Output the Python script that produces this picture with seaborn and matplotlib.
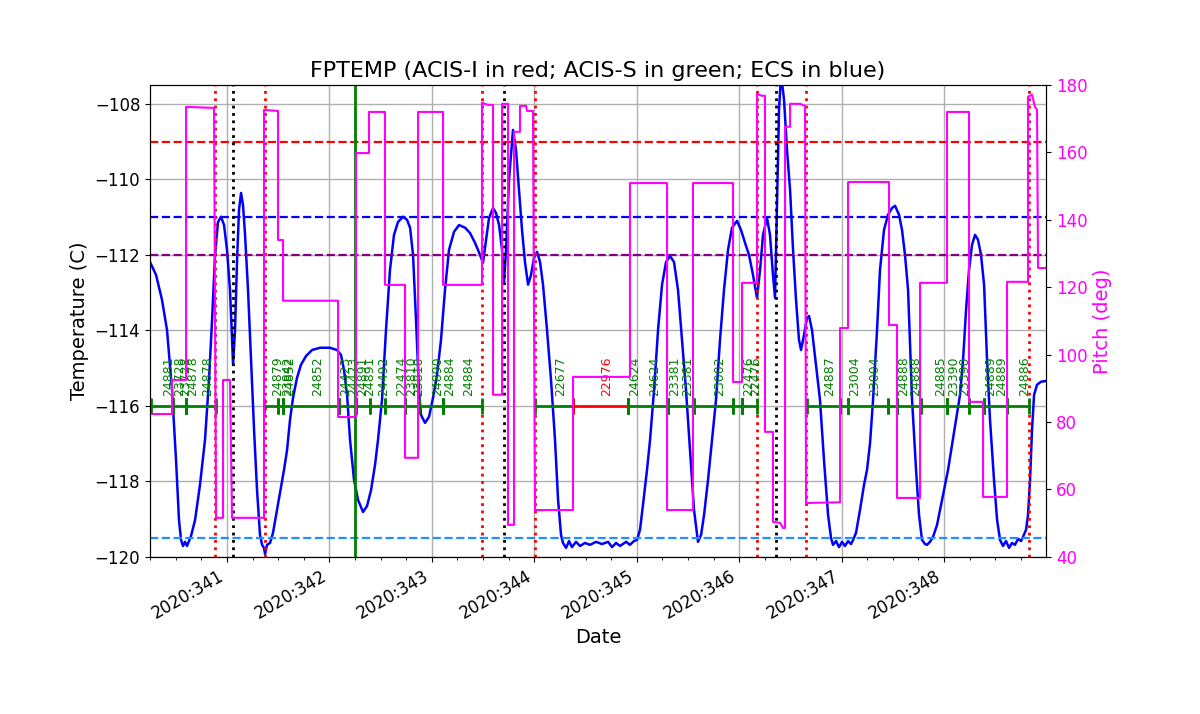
import matplotlib
matplotlib.use("Agg")
import matplotlib.pyplot as plt
from matplotlib.ticker import MultipleLocator, FuncFormatter
import seaborn as sns

# ---------------- data ----------------
temp_time = [340.248, 340.307, 340.365, 340.414, 340.463, 340.502, 340.531, 340.551, 340.570, 340.590,
             340.609, 340.629, 340.649, 340.688, 340.736, 340.785, 340.824, 340.854, 340.883, 340.912,
             340.941, 340.971, 341.000, 341.029, 341.049, 341.059, 341.078, 341.098, 341.117, 341.137,
             341.156, 341.176, 341.205, 341.234, 341.264, 341.293, 341.322, 341.342, 341.361, 341.371,
             341.391, 341.420, 341.449, 341.488, 341.517, 341.556, 341.586, 341.615, 341.644, 341.683,
             341.722, 341.771, 341.830, 341.908, 342.006, 342.074, 342.113, 342.142, 342.172, 342.201,
             342.240, 342.279, 342.328, 342.367, 342.406, 342.445, 342.474, 342.513, 342.552, 342.591,
             342.630, 342.669, 342.718, 342.757, 342.787, 342.816, 342.845, 342.874, 342.894, 342.933,
             342.972, 343.011, 343.050, 343.089, 343.128, 343.167, 343.216, 343.265, 343.324, 343.372,
             343.421, 343.470, 343.499, 343.529, 343.558, 343.597, 343.626, 343.656, 343.685, 343.704,
             343.724, 343.753, 343.792, 343.821, 343.851, 343.880, 343.909, 343.939, 343.968, 343.997,
             344.027, 344.056, 344.085, 344.124, 344.163, 344.202, 344.232, 344.261, 344.280, 344.310,
             344.339, 344.368, 344.407, 344.446, 344.495, 344.544, 344.603, 344.661, 344.720, 344.759,
             344.798, 344.837, 344.896, 344.934, 344.973, 345.003, 345.032, 345.061, 345.100, 345.130,
             345.169, 345.208, 345.247, 345.286, 345.325, 345.364, 345.403, 345.442, 345.481, 345.520,
             345.559, 345.598, 345.628, 345.657, 345.696, 345.735, 345.774, 345.813, 345.852, 345.891,
             345.930, 345.979, 346.018, 346.057, 346.096, 346.135, 346.174, 346.204, 346.233, 346.272,
             346.301, 346.330, 346.350, 346.370, 346.389, 346.409, 346.438, 346.467, 346.497, 346.526,
             346.555, 346.584, 346.604, 346.633, 346.662, 346.682, 346.711, 346.750, 346.789, 346.828,
             346.868, 346.897, 346.916, 346.946, 346.975, 347.004, 347.033, 347.063, 347.092, 347.112,
             347.141, 347.180, 347.219, 347.248, 347.278, 347.307, 347.346, 347.375, 347.414, 347.453,
             347.492, 347.522, 347.561, 347.590, 347.619, 347.649, 347.688, 347.727, 347.756, 347.785,
             347.815, 347.834, 347.863, 347.893, 347.932, 347.971, 348.010, 348.039, 348.078, 348.117,
             348.156, 348.186, 348.215, 348.244, 348.273, 348.303, 348.332, 348.361, 348.391, 348.420,
             348.449, 348.488, 348.518, 348.547, 348.576, 348.605, 348.635, 348.664, 348.693, 348.723,
             348.752, 348.771, 348.801, 348.820, 348.840, 348.859, 348.879, 348.908, 348.947, 348.996]
temp_value = [-112.19, -112.53, -113.19, -113.99, -115.58, -117.43, -119.02, -119.55, -119.71, -119.60,
              -119.71, -119.58, -119.44, -119.02, -118.09, -116.90, -115.31, -113.72, -112.00, -111.13,
              -110.99, -111.21, -111.87, -112.93, -114.25, -114.91, -113.99, -112.13, -110.81, -110.36,
              -110.68, -111.47, -112.93, -114.78, -116.64, -118.23, -119.42, -119.68, -119.76, -119.92,
              -119.68, -119.63, -119.36, -118.75, -118.30, -117.70, -117.17, -116.37, -115.79, -115.26,
              -114.91, -114.68, -114.52, -114.46, -114.46, -114.52, -114.65, -115.05, -115.71, -116.90,
              -117.96, -118.49, -118.81, -118.65, -118.23, -117.56, -116.90, -115.84, -113.99, -112.40,
              -111.47, -111.13, -110.99, -111.07, -111.28, -112.00, -113.72, -115.58, -116.24, -116.45,
              -116.29, -115.79, -115.18, -114.25, -112.93, -111.87, -111.39, -111.21, -111.28, -111.42,
              -111.68, -112.00, -112.21, -111.60, -111.02, -110.76, -110.89, -111.21, -111.87, -112.72,
              -111.87, -110.01, -108.69, -109.22, -110.28, -111.34, -112.19, -112.79, -112.53, -112.08,
              -111.92, -112.19, -112.79, -113.99, -115.31, -116.90, -118.49, -119.42, -119.63, -119.76,
              -119.58, -119.74, -119.60, -119.71, -119.63, -119.68, -119.60, -119.66, -119.60, -119.74,
              -119.63, -119.71, -119.60, -119.68, -119.58, -119.55, -119.28, -118.62, -117.70, -116.90,
              -115.58, -113.99, -112.79, -112.19, -112.03, -112.19, -112.93, -114.25, -115.58, -117.17,
              -118.75, -119.60, -119.42, -118.89, -117.96, -116.90, -115.84, -114.25, -112.93, -111.87,
              -111.28, -111.10, -111.34, -111.68, -112.00, -112.53, -113.14, -112.40, -111.47, -111.02,
              -111.47, -112.53, -113.14, -110.54, -108.16, -107.21, -107.89, -109.22, -110.28, -111.87,
              -113.19, -114.25, -114.52, -114.12, -113.67, -113.62, -113.99, -114.91, -115.84, -117.43,
              -118.89, -119.50, -119.68, -119.58, -119.74, -119.60, -119.71, -119.58, -119.66, -119.55,
              -119.36, -118.75, -118.09, -117.70, -116.98, -115.84, -113.99, -112.40, -111.34, -110.94,
              -110.76, -110.70, -110.94, -111.34, -112.00, -112.93, -115.84, -117.70, -118.89, -119.55,
              -119.66, -119.68, -119.60, -119.47, -119.15, -118.62, -118.09, -117.70, -117.03, -116.37,
              -115.71, -114.78, -113.46, -112.40, -111.74, -111.47, -111.60, -112.00, -112.79, -114.78,
              -116.37, -117.96, -119.02, -119.55, -119.71, -119.58, -119.76, -119.63, -119.68, -119.52,
              -119.58, -119.47, -119.28, -118.89, -117.96, -116.64, -115.71, -115.44, -115.36, -115.34]

pitch_time = [340.248, 340.463, 340.463, 340.600, 340.600, 340.873, 340.893, 340.961, 340.961, 341.029,
              341.049, 341.361, 341.361, 341.498, 341.498, 341.547, 341.547, 342.084, 342.084, 342.259,
              342.259, 342.386, 342.386, 342.542, 342.542, 342.738, 342.738, 342.865, 342.865, 343.109,
              343.109, 343.489, 343.489, 343.548, 343.597, 343.597, 343.685, 343.685, 343.743, 343.743,
              343.802, 343.802, 343.860, 343.860, 343.919, 343.929, 343.987, 344.007, 344.378, 344.378,
              344.934, 344.934, 345.296, 345.296, 345.549, 345.549, 345.940, 345.940, 346.028, 346.028,
              346.174, 346.174, 346.223, 346.252, 346.252, 346.330, 346.330, 346.399, 346.428, 346.448,
              346.448, 346.497, 346.497, 346.594, 346.643, 346.653, 346.985, 346.985, 347.063, 347.063,
              347.463, 347.463, 347.541, 347.541, 347.766, 347.766, 348.029, 348.029, 348.244, 348.244,
              348.381, 348.381, 348.615, 348.615, 348.820, 348.820, 348.859, 348.888, 348.908, 348.918,
              348.996]
pitch_value = [82.4, 82.4, 92.5, 92.5, 173.5, 173.2, 51.6, 51.6, 92.5, 92.5,
               51.6, 51.6, 172.6, 172.3, 134.0, 134.0, 116.0, 116.0, 81.5, 81.5,
               159.8, 159.8, 172.0, 172.0, 120.7, 120.7, 69.4, 69.4, 172.0, 172.0,
               120.7, 120.7, 174.7, 174.1, 174.1, 88.1, 88.1, 174.4, 174.4, 49.5,
               49.5, 166.1, 166.1, 173.8, 173.8, 172.3, 172.3, 53.9, 53.9, 93.4,
               93.4, 150.9, 150.9, 53.9, 53.9, 150.9, 150.9, 91.9, 91.9, 121.3,
               121.3, 177.3, 176.8, 176.8, 77.1, 77.1, 50.4, 50.1, 48.6, 48.6,
               167.6, 167.6, 174.4, 174.4, 173.8, 56.0, 56.2, 107.9, 107.9, 151.2,
               151.2, 108.8, 108.8, 57.5, 57.5, 121.3, 121.3, 172.0, 172.0, 86.0,
               86.0, 57.8, 57.8, 121.6, 121.6, 176.5, 177.1, 173.5, 172.6, 125.7,
               125.7]

# observations (ACIS-S green / ACIS-I red); label printed at segment midpoint
obs_start = [340.260, 340.470, 340.473, 340.597, 340.600,
             341.361, 341.501, 341.547, 341.550, 342.089, 342.092, 342.256, 342.259, 342.396,
             342.538, 342.738, 342.741, 342.877, 343.106, 343.109,
             344.007, 344.378, 344.915, 344.918, 345.305, 345.308, 345.559, 345.937, 346.025, 346.028,
             346.659, 346.985, 347.063, 347.066, 347.453, 347.538, 347.541, 347.775, 348.029, 348.032,
             348.244, 348.390, 348.393, 348.612]
obs_stop = [340.470, 340.473, 340.597, 340.600, 340.890,
            341.501, 341.547, 341.550, 342.089, 342.092, 342.256, 342.259, 342.396, 342.538,
            342.738, 342.741, 342.877, 343.106, 343.109, 343.489,
            344.378, 344.915, 344.918, 345.305, 345.308, 345.559, 345.937, 346.025, 346.028, 346.171,
            346.985, 347.063, 347.066, 347.453, 347.538, 347.541, 347.775, 348.029, 348.032, 348.244,
            348.390, 348.393, 348.612, 348.830]
obs_id = ["24881", "23728", "23728", "24878", "24878",
          "24879", "23842", "24852", "24852", "24423", "24423", "24891", "24891", "24492",
          "22474", "23810", "23810", "24890", "24884", "24884",
          "22677", "22976", "24624", "24624", "23381", "23381", "23002", "", "22476", "22476",
          "24887", "", "23004", "23004", "", "24888", "24888", "24885", "23390", "23390",
          "", "24889", "24889", "24886"]
obs_instr = ["S"] * 21 + ["I"] + ["S"] * 22

limit_values = [-109.0, -111.0, -112.0, -119.5]
limit_colors = ["red", "blue", "purple", "dodgerblue"]
red_event_times = [340.883, 341.366, 343.493, 344.007, 346.171, 346.652, 348.830]
black_event_times = [341.055, 343.707, 346.357]
green_event_times = [342.252]

xlim = (340.248, 348.996)
ylim_temp = (-120.0, -107.5)
ylim_pitch = (40.0, 180.0)
obs_level = -116.0

# ---------------- plot ----------------
fig = plt.figure(figsize=(12, 7.14), dpi=100)
ax = fig.add_axes([0.125, 0.22, 0.7467, 0.661])

sns.lineplot(x=temp_time, y=temp_value, estimator=None, sort=False, color="blue",
             linewidth=1.8, ax=ax)
ax.set_xlim(*xlim)
ax.set_ylim(*ylim_temp)
ax.grid(True, color="#b0b0b0", linewidth=1.0)
ax.set_axisbelow(True)

for v, c in zip(limit_values, limit_colors):
    ax.axhline(v, color=c, linestyle="--", linewidth=1.6)
for t in red_event_times:
    ax.axvline(t, color="red", linestyle=":", linewidth=2)
for t in black_event_times:
    ax.axvline(t, color="black", linestyle=":", linewidth=2)
for t in green_event_times:
    ax.axvline(t, color="green", linestyle="-", linewidth=2)

for s, e, oid, ins in zip(obs_start, obs_stop, obs_id, obs_instr):
    col = "red" if ins == "I" else "green"
    ax.plot([s, e], [obs_level, obs_level], color=col, linewidth=2,
            marker="|", markersize=11, markeredgewidth=2)
    if oid:
        ax.text(0.5 * (s + e), obs_level + 0.25, oid, color=col, rotation=90,
                fontsize=9, ha="left", va="bottom")

ax.xaxis.set_major_locator(MultipleLocator(1))
ax.xaxis.set_minor_locator(MultipleLocator(0.25))
ax.xaxis.set_major_formatter(FuncFormatter(lambda x, p: f"2020:{int(round(x))}"))
ax.tick_params(axis="x", labelrotation=30, labelsize=12)
ax.tick_params(axis="y", labelsize=12)
plt.setp(ax.get_xticklabels(), ha="right", rotation_mode="default")
ax.set_xlabel("Date", fontsize=14)
ax.set_ylabel("Temperature (C)", fontsize=14)
ax.set_title("FPTEMP (ACIS-I in red; ACIS-S in green; ECS in blue)", fontsize=16)

ax2 = ax.twinx()
sns.lineplot(x=pitch_time, y=pitch_value, estimator=None, sort=False, color="magenta",
             linewidth=1.5, ax=ax2)
ax2.set_xlim(*xlim)
ax2.set_ylim(*ylim_pitch)
ax2.set_ylabel("Pitch (deg)", color="magenta", fontsize=14)
ax2.tick_params(axis="y", labelcolor="magenta", labelsize=12)
ax2.xaxis.set_visible(False)

fig.savefig("out.png", dpi=100)
